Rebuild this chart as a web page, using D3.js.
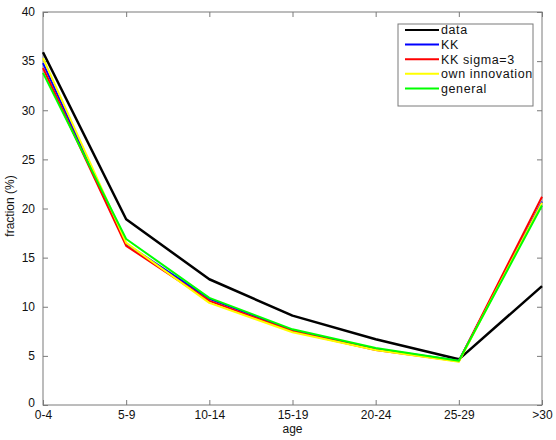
<!DOCTYPE html>
<html>
<head>
<meta charset="utf-8">
<script src="https://cdn.jsdelivr.net/npm/d3@7"></script>
<style>
  body { margin: 0; background: #fff; }
  svg text { font-family: "Liberation Sans", Arial, sans-serif; }
</style>
</head>
<body>
<div id="chart"></div>
<script>
// age groups on the x axis
var ageGroups = ['0-4', '5-9', '10-14', '15-19', '20-24', '25-29', '>30'];
var yTicks = [0, 5, 10, 15, 20, 25, 30, 35, 40];

// fraction (%) per age group
var dataSeries       = [35.9, 18.9, 12.8, 9.1, 6.7, 4.65, 12.1];
var kkSeries         = [34.8, 16.4, 10.8, 7.6, 5.7, 4.5, 20.7];
var kkSigmaSeries    = [34.3, 16.2, 10.6, 7.5, 5.6, 4.45, 21.2];
var ownInnovSeries   = [35.3, 16.5, 10.4, 7.4, 5.6, 4.4, 20.6];
var generalSeries    = [33.8, 16.9, 10.9, 7.7, 5.8, 4.5, 20.3];

var seriesNames  = ['data', 'KK', 'KK sigma=3', 'own innovation', 'general'];
var seriesColors = ['#000000', '#0000ff', '#ff0000', '#ffff00', '#00ff00'];
var seriesValues = [dataSeries, kkSeries, kkSigmaSeries, ownInnovSeries, generalSeries];

var width = 556, height = 440;
var margin = {top: 12, right: 14, bottom: 35, left: 43};
var innerWidth = width - margin.left - margin.right,
    innerHeight = height - margin.top - margin.bottom;

var svg = d3.select('#chart').append('svg')
    .attr('width', width)
    .attr('height', height);
var g = svg.append('g')
    .attr('transform', 'translate(' + margin.left + ',' + margin.top + ')');

var x = d3.scalePoint()
    .domain(ageGroups)
    .range([0, innerWidth]);
var y = d3.scaleLinear()
    .domain([0, 40])
    .range([innerHeight, 0]);

var axisColor = '#7a7a7a';

// box frame
g.append('rect')
    .attr('width', innerWidth)
    .attr('height', innerHeight)
    .attr('fill', 'none')
    .attr('stroke', axisColor)
    .attr('stroke-width', 1);

// x axis (bottom) with inward ticks
var xAxis = g.append('g')
    .attr('transform', 'translate(0,' + innerHeight + ')')
    .call(d3.axisBottom(x).tickSizeInner(-5).tickSizeOuter(0).tickPadding(7));
// top mirrored ticks
var xTop = g.append('g')
    .call(d3.axisTop(x).tickSizeInner(-5).tickSizeOuter(0));

var yAxis = g.append('g')
    .call(d3.axisLeft(y).tickValues(yTicks).tickSizeInner(-5).tickSizeOuter(0).tickPadding(8));
var yRight = g.append('g')
    .attr('transform', 'translate(' + innerWidth + ',0)')
    .call(d3.axisRight(y).tickValues(yTicks).tickSizeInner(-5).tickSizeOuter(0));

// mirrored axes only keep their tick marks
xTop.selectAll('text').remove();
yRight.selectAll('text').remove();

[xAxis, xTop, yAxis, yRight].forEach(function(a) {
    a.select('.domain').remove();
    a.selectAll('line').attr('stroke', axisColor);
    a.selectAll('text')
        .attr('fill', '#111')
        .attr('font-size', 12)
        .style('font-family', '"Liberation Sans", Arial, sans-serif');
});
xAxis.selectAll('text').attr('dy', '0.6em');
yAxis.selectAll('text').filter(function(d) { return d === 0; }).attr('dy', '0.1em');

// lines
var line = d3.line()
    .x(function(d, i) { return x(ageGroups[i]); })
    .y(function(d) { return y(d); });

seriesValues.forEach(function(vals, k) {
    g.append('path')
        .datum(vals)
        .attr('fill', 'none')
        .attr('stroke', seriesColors[k])
        .attr('stroke-width', k === 0 ? 2.5 : 2)
        .attr('stroke-linejoin', 'round')
        .attr('d', line);
});

// axis labels
svg.append('text')
    .attr('x', margin.left + innerWidth / 2)
    .attr('y', 433)
    .attr('text-anchor', 'middle')
    .attr('font-size', 12)
    .attr('fill', '#111')
    .text('age');

svg.append('text')
    .attr('transform', 'translate(14,206) rotate(-90)')
    .attr('text-anchor', 'middle')
    .attr('font-size', 12)
    .attr('fill', '#111')
    .text('fraction (%)');

// legend
var legend = svg.append('g')
    .attr('transform', 'translate(398,24)');
legend.append('rect')
    .attr('width', 135)
    .attr('height', 82)
    .attr('fill', '#fff')
    .attr('stroke', axisColor);
var items = legend.selectAll('g.item')
    .data(seriesNames)
    .enter().append('g')
    .attr('class', 'item')
    .attr('transform', function(d, i) { return 'translate(0,' + (6 + i * 14.6) + ')'; });
items.append('line')
    .attr('x1', 7)
    .attr('x2', 41)
    .attr('stroke', function(d, i) { return seriesColors[i]; })
    .attr('stroke-width', 2);
items.append('text')
    .attr('x', 43)
    .attr('dy', '0.35em')
    .attr('font-size', 12.5)
    .attr('letter-spacing', 0.6)
    .attr('fill', '#111')
    .text(function(d) { return d; });
</script>
</body>
</html>
